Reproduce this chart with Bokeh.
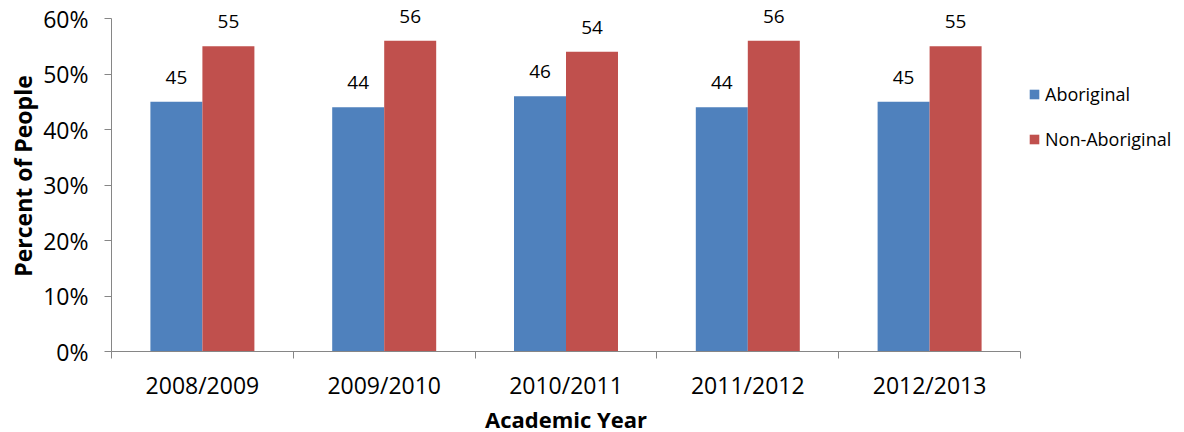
from bokeh.plotting import figure
from bokeh.models import (Range1d, FixedTicker, Legend, LegendItem,
                          ColumnDataSource, LabelSet, Title)
from bokeh.core.properties import value
from bokeh.embed import file_html
from bokeh.resources import INLINE

# Share of people by academic year (percent)
years = ["2008/2009", "2009/2010", "2010/2011", "2011/2012", "2012/2013"]
aboriginal = [45, 44, 46, 44, 45]
non_aboriginal = [55, 56, 54, 56, 55]
y_ticks = [0, 10, 20, 30, 40, 50, 60]
y_tick_labels = ["0%", "10%", "20%", "30%", "40%", "50%", "60%"]

BLUE = "#4F81BD"
RED = "#C0504D"
AXIS_GREY = "#868686"
FONT = "Open Sans"

bar_w = 0.286
centers = [i + 0.5 for i in range(len(years))]
src_a = ColumnDataSource(dict(x=[c - bar_w / 2 for c in centers], top=aboriginal,
                              lbl=[str(v) for v in aboriginal]))
src_n = ColumnDataSource(dict(x=[c + bar_w / 2 for c in centers], top=non_aboriginal,
                              lbl=[str(v) for v in non_aboriginal]))

# the frame reaches the top edge so the value labels above the tallest bars
# have room; the axis line itself stops at the last tick
axis_px = 333
head_px = 18
y_max = y_ticks[-1] * (axis_px + head_px) / axis_px

p = figure(frame_width=909, frame_height=axis_px + head_px,
           x_range=Range1d(0, len(years)), y_range=Range1d(y_ticks[0], y_max),
           output_backend="svg", toolbar_location=None)
p.min_border_left = 111
p.min_border_right = 164
p.min_border_top = 0
p.min_border_bottom = 81
p.outline_line_color = None
p.xgrid.visible = False
p.ygrid.visible = False
p.background_fill_color = "white"
p.border_fill_color = "white"

ra = p.vbar(x="x", top="top", width=bar_w, bottom=0, source=src_a,
            fill_color=BLUE, line_color=None)
rn = p.vbar(x="x", top="top", width=bar_w, bottom=0, source=src_n,
            fill_color=RED, line_color=None)

# value labels above each bar
for src in (src_a, src_n):
    p.add_layout(LabelSet(x="x", y="top", text="lbl", source=src,
                          text_align="center", text_baseline="alphabetic",
                          y_offset=18, text_font=value(FONT),
                          text_font_size=value("19px"),
                          text_color=value("#000000")))

# y axis
ya = p.yaxis[0]
ya.bounds = (y_ticks[0], y_ticks[-1])
ya.ticker = FixedTicker(ticks=y_ticks)
ya.major_label_overrides = {t: l for t, l in zip(y_ticks, y_tick_labels)}
ya.axis_line_color = AXIS_GREY
ya.major_tick_line_color = AXIS_GREY
ya.major_tick_in = 0
ya.major_tick_out = 7
ya.minor_tick_line_color = None
ya.major_label_text_font = FONT
ya.major_label_text_font_size = "23px"
ya.major_label_text_color = "#000000"
ya.major_label_standoff = 16

# y axis title, centred on the 0-60% span rather than on the whole frame
p.add_layout(Title(text="Percent of People", align="center", offset=-13,
                   text_font=FONT, text_font_style="bold",
                   text_font_size="23px", text_color="#000000", standoff=4),
             "left")

# x axis: labels at category centres, ticks on category boundaries
xa = p.xaxis[0]
xa.ticker = FixedTicker(ticks=centers, minor_ticks=list(range(len(years) + 1)))
xa.major_label_overrides = {c: y for c, y in zip(centers, years)}
xa.axis_line_color = AXIS_GREY
xa.major_tick_line_color = None
xa.major_tick_in = 0
xa.major_tick_out = 0
xa.minor_tick_line_color = AXIS_GREY
xa.minor_tick_in = 0
xa.minor_tick_out = 7
xa.major_label_text_font = FONT
xa.major_label_text_font_size = "23px"
xa.major_label_text_color = "#000000"
xa.major_label_standoff = 10
xa.axis_label = "Academic Year"
xa.axis_label_text_font = FONT
xa.axis_label_text_font_style = "bold"
xa.axis_label_text_font_size = "22px"
xa.axis_label_text_color = "#000000"
xa.axis_label_standoff = 0

legend = Legend(items=[LegendItem(label="Aboriginal", renderers=[ra]),
                       LegendItem(label="Non-Aboriginal", renderers=[rn])],
                location=(8, 200), glyph_width=12, glyph_height=12,
                label_text_font=FONT, label_text_font_size="18px",
                label_text_color="#000000", label_standoff=5, spacing=21,
                padding=0, margin=0, border_line_color=None,
                background_fill_alpha=0)
p.add_layout(legend, "right")

open("out.html", "w").write(file_html(p, INLINE))
